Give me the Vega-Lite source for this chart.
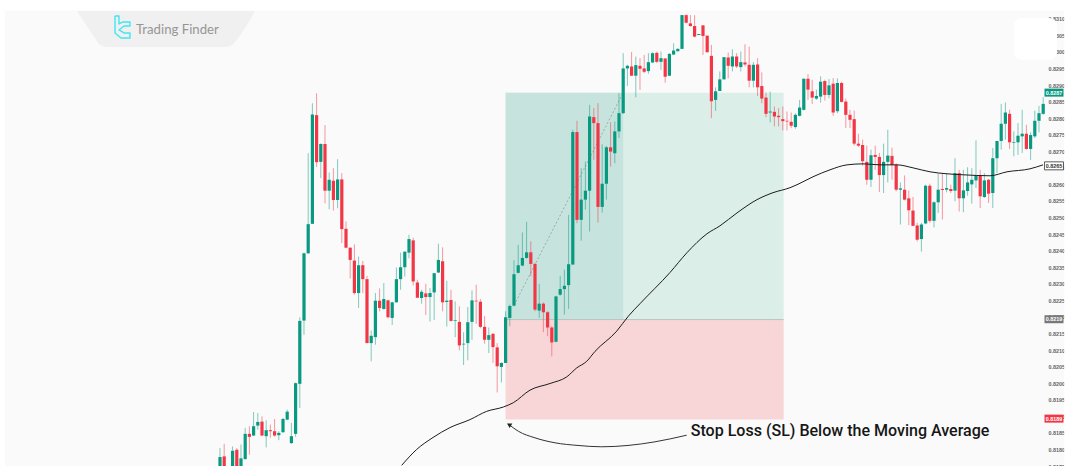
{"$schema":"https://vega.github.io/schema/vega-lite/v6.json","width":1066,"height":466,"autosize":{"type":"none"},"padding":0,"background":"#ffffff","config":{"view":{"fill":"#fafafa","stroke":null}},
"datasets":{"candles":[
{"i":0,"h":0.81804,"l":0.81699,"o":0.81709,"c":0.81777},
{"i":1,"h":0.81817,"l":0.81699,"o":0.81779,"c":0.81709},
{"i":3,"h":0.81809,"l":0.81699,"o":0.81719,"c":0.81796},
{"i":4,"h":0.81804,"l":0.81699,"o":0.81799,"c":0.81734},
{"i":5,"h":0.81815,"l":0.81709,"o":0.81729,"c":0.81773},
{"i":6,"h":0.81865,"l":0.81769,"o":0.81771,"c":0.81847},
{"i":7,"h":0.8187,"l":0.81784,"o":0.81847,"c":0.81838},
{"i":8,"h":0.81913,"l":0.8184,"o":0.81842,"c":0.8187},
{"i":9,"h":0.8191,"l":0.8186,"o":0.81872,"c":0.81883},
{"i":10,"h":0.819,"l":0.8184,"o":0.81884,"c":0.81842},
{"i":11,"h":0.81888,"l":0.81806,"o":0.8184,"c":0.81858},
{"i":12,"h":0.81875,"l":0.81835,"o":0.81858,"c":0.81855},
{"i":13,"h":0.81892,"l":0.81838,"o":0.81855,"c":0.81842},
{"i":14,"h":0.81855,"l":0.81828,"o":0.81843,"c":0.8185},
{"i":15,"h":0.81895,"l":0.8185,"o":0.81852,"c":0.81892},
{"i":16,"h":0.8192,"l":0.81888,"o":0.8189,"c":0.81914},
{"i":17,"h":0.8188,"l":0.81817,"o":0.81819,"c":0.8184},
{"i":18,"h":0.82002,"l":0.81838,"o":0.81847,"c":0.82},
{"i":19,"h":0.82199,"l":0.81925,"o":0.81998,"c":0.82188},
{"i":20,"h":0.82394,"l":0.82146,"o":0.82189,"c":0.82392},
{"i":21,"h":0.82694,"l":0.8239,"o":0.82392,"c":0.8248},
{"i":22,"h":0.82845,"l":0.82481,"o":0.82481,"c":0.82811},
{"i":23,"h":0.82875,"l":0.82652,"o":0.82809,"c":0.82667},
{"i":24,"h":0.82724,"l":0.82619,"o":0.82668,"c":0.82722},
{"i":25,"h":0.82779,"l":0.82543,"o":0.82722,"c":0.82581},
{"i":26,"h":0.82636,"l":0.82525,"o":0.82581,"c":0.82614},
{"i":27,"h":0.82649,"l":0.82521,"o":0.82611,"c":0.82553},
{"i":28,"h":0.82676,"l":0.82528,"o":0.82553,"c":0.82615},
{"i":29,"h":0.82634,"l":0.82423,"o":0.82615,"c":0.82465},
{"i":30,"h":0.82488,"l":0.82407,"o":0.82466,"c":0.82409},
{"i":31,"h":0.82409,"l":0.82316,"o":0.82409,"c":0.82372},
{"i":32,"h":0.82419,"l":0.82267,"o":0.8237,"c":0.82272},
{"i":33,"h":0.82382,"l":0.82227,"o":0.82272,"c":0.82356},
{"i":34,"h":0.82369,"l":0.82272,"o":0.82356,"c":0.82314},
{"i":35,"h":0.82324,"l":0.82121,"o":0.82314,"c":0.82121},
{"i":36,"h":0.82159,"l":0.82066,"o":0.82121,"c":0.82143},
{"i":37,"h":0.82272,"l":0.82116,"o":0.82139,"c":0.82249},
{"i":38,"h":0.82286,"l":0.82217,"o":0.82249,"c":0.82227},
{"i":39,"h":0.82302,"l":0.82222,"o":0.82224,"c":0.82254},
{"i":40,"h":0.82252,"l":0.82196,"o":0.8225,"c":0.82199},
{"i":41,"h":0.82246,"l":0.82176,"o":0.82197,"c":0.82244},
{"i":42,"h":0.82349,"l":0.82244,"o":0.82244,"c":0.82314},
{"i":43,"h":0.82394,"l":0.82282,"o":0.82314,"c":0.8235},
{"i":44,"h":0.82397,"l":0.82322,"o":0.8235,"c":0.82397},
{"i":45,"h":0.82448,"l":0.82377,"o":0.82394,"c":0.82435},
{"i":46,"h":0.82439,"l":0.82295,"o":0.82431,"c":0.82307},
{"i":47,"h":0.82312,"l":0.82257,"o":0.82304,"c":0.82258},
{"i":48,"h":0.82282,"l":0.8224,"o":0.82257,"c":0.82276},
{"i":49,"h":0.823,"l":0.82206,"o":0.82271,"c":0.8226},
{"i":50,"h":0.82287,"l":0.82186,"o":0.8226,"c":0.82272},
{"i":51,"h":0.82332,"l":0.82191,"o":0.82274,"c":0.82332},
{"i":52,"h":0.82421,"l":0.82332,"o":0.82334,"c":0.82372},
{"i":53,"h":0.8241,"l":0.82217,"o":0.82368,"c":0.82244},
{"i":54,"h":0.82309,"l":0.82171,"o":0.82245,"c":0.82249},
{"i":55,"h":0.82282,"l":0.82186,"o":0.82251,"c":0.82188},
{"i":56,"h":0.82247,"l":0.82139,"o":0.82188,"c":0.8219},
{"i":57,"h":0.82232,"l":0.82099,"o":0.82185,"c":0.82114},
{"i":58,"h":0.82154,"l":0.82055,"o":0.82117,"c":0.82119},
{"i":59,"h":0.8223,"l":0.82069,"o":0.82121,"c":0.82184},
{"i":60,"h":0.8228,"l":0.82131,"o":0.82185,"c":0.8225},
{"i":61,"h":0.82297,"l":0.82179,"o":0.82249,"c":0.82247},
{"i":62,"h":0.82254,"l":0.82166,"o":0.82246,"c":0.8217},
{"i":63,"h":0.82203,"l":0.82119,"o":0.8217,"c":0.82131},
{"i":64,"h":0.82168,"l":0.82091,"o":0.82131,"c":0.82145},
{"i":65,"h":0.82151,"l":0.82061,"o":0.82149,"c":0.82109},
{"i":66,"h":0.82121,"l":0.81972,"o":0.82108,"c":0.82051},
{"i":67,"h":0.82063,"l":0.82002,"o":0.82049,"c":0.82061},
{"i":68,"h":0.82217,"l":0.82061,"o":0.82061,"c":0.82199},
{"i":69,"h":0.82237,"l":0.82172,"o":0.82197,"c":0.82233},
{"i":70,"h":0.82371,"l":0.82232,"o":0.82234,"c":0.82329},
{"i":71,"h":0.82418,"l":0.82331,"o":0.82333,"c":0.82356},
{"i":72,"h":0.82455,"l":0.82353,"o":0.82355,"c":0.82378},
{"i":73,"h":0.82487,"l":0.82376,"o":0.82378,"c":0.82395},
{"i":74,"h":0.82428,"l":0.82323,"o":0.82395,"c":0.8236},
{"i":75,"h":0.82363,"l":0.82217,"o":0.8236,"c":0.82222},
{"i":76,"h":0.823,"l":0.82197,"o":0.82219,"c":0.8224},
{"i":77,"h":0.82244,"l":0.82154,"o":0.8224,"c":0.82214},
{"i":78,"h":0.82217,"l":0.82142,"o":0.82214,"c":0.82168},
{"i":79,"h":0.82172,"l":0.82081,"o":0.82168,"c":0.82123},
{"i":80,"h":0.82264,"l":0.82123,"o":0.82125,"c":0.82262},
{"i":81,"h":0.82324,"l":0.82264,"o":0.82267,"c":0.82284},
{"i":82,"h":0.82343,"l":0.82207,"o":0.82284,"c":0.82294},
{"i":83,"h":0.82508,"l":0.82224,"o":0.82296,"c":0.82359},
{"i":84,"h":0.82765,"l":0.82358,"o":0.82358,"c":0.82758},
{"i":85,"h":0.82792,"l":0.82483,"o":0.82758,"c":0.82493},
{"i":86,"h":0.82649,"l":0.8243,"o":0.82493,"c":0.82554},
{"i":87,"h":0.82669,"l":0.82524,"o":0.82554,"c":0.82581},
{"i":88,"h":0.8284,"l":0.82458,"o":0.82581,"c":0.82805},
{"i":89,"h":0.8283,"l":0.82674,"o":0.82803,"c":0.82785},
{"i":90,"h":0.82845,"l":0.82485,"o":0.82785,"c":0.82532},
{"i":91,"h":0.82721,"l":0.82515,"o":0.82532,"c":0.82602},
{"i":92,"h":0.82716,"l":0.82554,"o":0.82602,"c":0.82712},
{"i":93,"h":0.82788,"l":0.82654,"o":0.82712,"c":0.82699},
{"i":94,"h":0.8279,"l":0.82664,"o":0.82694,"c":0.8276},
{"i":95,"h":0.82875,"l":0.8274,"o":0.8276,"c":0.82815},
{"i":96,"h":0.82996,"l":0.82813,"o":0.82815,"c":0.8295},
{"i":97,"h":0.82961,"l":0.82897,"o":0.8295,"c":0.82958},
{"i":98,"h":0.83,"l":0.82928,"o":0.82956,"c":0.82928},
{"i":99,"h":0.82986,"l":0.82863,"o":0.82928,"c":0.8296},
{"i":100,"h":0.82981,"l":0.82885,"o":0.82958,"c":0.82949},
{"i":101,"h":0.82991,"l":0.82936,"o":0.8295,"c":0.8294},
{"i":102,"h":0.82996,"l":0.82934,"o":0.82942,"c":0.82969},
{"i":103,"h":0.82999,"l":0.82966,"o":0.82968,"c":0.82996},
{"i":104,"h":0.83001,"l":0.82966,"o":0.82997,"c":0.8297},
{"i":105,"h":0.83001,"l":0.82946,"o":0.8297,"c":0.82981},
{"i":106,"h":0.82981,"l":0.82907,"o":0.8298,"c":0.82925},
{"i":107,"h":0.82996,"l":0.82928,"o":0.82928,"c":0.82994},
{"i":108,"h":0.83026,"l":0.8299,"o":0.82992,"c":0.83004},
{"i":109,"h":0.83011,"l":0.83001,"o":0.83002,"c":0.83009},
{"i":110,"h":0.83111,"l":0.83009,"o":0.83009,"c":0.83111},
{"i":111,"h":0.83113,"l":0.83086,"o":0.83111,"c":0.83088},
{"i":112,"h":0.83111,"l":0.83076,"o":0.83086,"c":0.83078},
{"i":113,"h":0.83111,"l":0.83044,"o":0.83078,"c":0.83046},
{"i":114,"h":0.83054,"l":0.83051,"o":0.83051,"c":0.83054},
{"i":115,"h":0.83081,"l":0.82991,"o":0.8308,"c":0.83048},
{"i":116,"h":0.83049,"l":0.82998,"o":0.83049,"c":0.82999},
{"i":117,"h":0.83021,"l":0.828,"o":0.82988,"c":0.82851},
{"i":118,"h":0.82893,"l":0.82822,"o":0.82855,"c":0.82881},
{"i":119,"h":0.82941,"l":0.82882,"o":0.82882,"c":0.82917},
{"i":120,"h":0.82984,"l":0.82917,"o":0.82917,"c":0.82984},
{"i":121,"h":0.82998,"l":0.8292,"o":0.82983,"c":0.82958},
{"i":122,"h":0.83008,"l":0.82941,"o":0.82956,"c":0.82986},
{"i":123,"h":0.82996,"l":0.82951,"o":0.82986,"c":0.82956},
{"i":124,"h":0.83001,"l":0.82941,"o":0.82954,"c":0.82969},
{"i":125,"h":0.83023,"l":0.82956,"o":0.82968,"c":0.82962},
{"i":126,"h":0.83016,"l":0.82893,"o":0.82961,"c":0.82913},
{"i":127,"h":0.82969,"l":0.82893,"o":0.82913,"c":0.82961},
{"i":128,"h":0.82981,"l":0.82867,"o":0.82962,"c":0.82893},
{"i":129,"h":0.82938,"l":0.82845,"o":0.82897,"c":0.82859},
{"i":130,"h":0.82877,"l":0.82803,"o":0.82862,"c":0.82813},
{"i":131,"h":0.8288,"l":0.82787,"o":0.82817,"c":0.8282},
{"i":132,"h":0.82835,"l":0.82775,"o":0.82819,"c":0.82805},
{"i":133,"h":0.8283,"l":0.82775,"o":0.82807,"c":0.82803},
{"i":134,"h":0.82835,"l":0.82763,"o":0.82797,"c":0.82791},
{"i":135,"h":0.8282,"l":0.82763,"o":0.82792,"c":0.8279},
{"i":136,"h":0.82817,"l":0.8277,"o":0.82789,"c":0.82777},
{"i":137,"h":0.82815,"l":0.82768,"o":0.82773,"c":0.8281},
{"i":138,"h":0.82855,"l":0.82805,"o":0.82807,"c":0.82832},
{"i":139,"h":0.82919,"l":0.82823,"o":0.82825,"c":0.82919},
{"i":140,"h":0.82933,"l":0.82855,"o":0.82919,"c":0.82886},
{"i":141,"h":0.82916,"l":0.82843,"o":0.82881,"c":0.82862},
{"i":142,"h":0.82886,"l":0.82855,"o":0.82859,"c":0.82867},
{"i":143,"h":0.82926,"l":0.82847,"o":0.82865,"c":0.8291},
{"i":144,"h":0.82916,"l":0.82853,"o":0.82912,"c":0.8287},
{"i":145,"h":0.82918,"l":0.8286,"o":0.8287,"c":0.82899},
{"i":146,"h":0.82921,"l":0.82807,"o":0.82904,"c":0.82817},
{"i":147,"h":0.8292,"l":0.82815,"o":0.82821,"c":0.82906},
{"i":148,"h":0.8291,"l":0.82847,"o":0.82906,"c":0.82849},
{"i":149,"h":0.82859,"l":0.8277,"o":0.8285,"c":0.8281},
{"i":150,"h":0.82825,"l":0.8277,"o":0.8281,"c":0.82795},
{"i":151,"h":0.82823,"l":0.82717,"o":0.82797,"c":0.82723},
{"i":152,"h":0.82753,"l":0.82713,"o":0.82723,"c":0.82717},
{"i":153,"h":0.82735,"l":0.82656,"o":0.82719,"c":0.8267},
{"i":154,"h":0.82717,"l":0.82599,"o":0.82668,"c":0.82614},
{"i":155,"h":0.82705,"l":0.82592,"o":0.82614,"c":0.82688},
{"i":156,"h":0.82717,"l":0.82644,"o":0.82689,"c":0.82683},
{"i":157,"h":0.82695,"l":0.82577,"o":0.82683,"c":0.82628},
{"i":158,"h":0.82723,"l":0.82574,"o":0.82628,"c":0.82668},
{"i":159,"h":0.82765,"l":0.82606,"o":0.82668,"c":0.82687},
{"i":160,"h":0.82711,"l":0.82614,"o":0.82686,"c":0.82659},
{"i":161,"h":0.82664,"l":0.82579,"o":0.82659,"c":0.82584},
{"i":162,"h":0.82606,"l":0.82479,"o":0.82584,"c":0.82588},
{"i":163,"h":0.82627,"l":0.82552,"o":0.82584,"c":0.82554},
{"i":164,"h":0.82582,"l":0.82477,"o":0.82558,"c":0.82522},
{"i":165,"h":0.82562,"l":0.82474,"o":0.82521,"c":0.82475},
{"i":166,"h":0.82484,"l":0.82428,"o":0.82476,"c":0.82433},
{"i":167,"h":0.82484,"l":0.82397,"o":0.82435,"c":0.82479},
{"i":168,"h":0.82599,"l":0.8248,"o":0.82482,"c":0.82596},
{"i":169,"h":0.82602,"l":0.82484,"o":0.82596,"c":0.8249},
{"i":170,"h":0.82549,"l":0.8247,"o":0.8249,"c":0.82546},
{"i":171,"h":0.82634,"l":0.82514,"o":0.82546,"c":0.82584},
{"i":172,"h":0.82634,"l":0.82494,"o":0.82586,"c":0.82583},
{"i":173,"h":0.82634,"l":0.82576,"o":0.82584,"c":0.82589},
{"i":174,"h":0.82599,"l":0.82574,"o":0.82586,"c":0.8258},
{"i":175,"h":0.82679,"l":0.82549,"o":0.82581,"c":0.82634},
{"i":176,"h":0.82644,"l":0.82518,"o":0.82634,"c":0.82558},
{"i":177,"h":0.82644,"l":0.82516,"o":0.82558,"c":0.82582},
{"i":178,"h":0.82652,"l":0.82566,"o":0.8258,"c":0.82606},
{"i":179,"h":0.82649,"l":0.82542,"o":0.826,"c":0.82614},
{"i":180,"h":0.82733,"l":0.82589,"o":0.82612,"c":0.82627},
{"i":181,"h":0.82644,"l":0.82529,"o":0.82627,"c":0.82564},
{"i":182,"h":0.82634,"l":0.82559,"o":0.82562,"c":0.82612},
{"i":183,"h":0.82616,"l":0.82544,"o":0.82614,"c":0.82572},
{"i":184,"h":0.8271,"l":0.82529,"o":0.82574,"c":0.82679},
{"i":185,"h":0.82731,"l":0.82634,"o":0.82679,"c":0.82731},
{"i":186,"h":0.82843,"l":0.82705,"o":0.82731,"c":0.82783},
{"i":187,"h":0.82847,"l":0.82735,"o":0.82783,"c":0.82817},
{"i":188,"h":0.82825,"l":0.82707,"o":0.82813,"c":0.82727},
{"i":189,"h":0.8276,"l":0.82685,"o":0.82725,"c":0.82727},
{"i":190,"h":0.82785,"l":0.82689,"o":0.82727,"c":0.82747},
{"i":191,"h":0.82825,"l":0.82695,"o":0.82745,"c":0.82753},
{"i":192,"h":0.8278,"l":0.82705,"o":0.82753,"c":0.82707},
{"i":193,"h":0.82757,"l":0.82674,"o":0.82707,"c":0.82749},
{"i":194,"h":0.82823,"l":0.8274,"o":0.82745,"c":0.82792},
{"i":195,"h":0.82837,"l":0.82757,"o":0.82792,"c":0.82815},
{"i":196,"h":0.82863,"l":0.8281,"o":0.82813,"c":0.82843}
],
"ma":[
{"i":43.26,"p":0.81752},{"i":46.83,"p":0.818},{"i":50.71,"p":0.81836},{"i":54.76,"p":0.81866},{"i":59.52,"p":0.8189},{"i":63.5,"p":0.81915},{"i":67.45,"p":0.81928},{"i":69.83,"p":0.81941},{"i":73.81,"p":0.81979},{"i":78.57,"p":0.81999},{"i":82.55,"p":0.82019},{"i":84.93,"p":0.82046},{"i":87.31,"p":0.82066},{"i":89.29,"p":0.82096},{"i":94.45,"p":0.82157},{"i":97.21,"p":0.82202},{"i":100,"p":0.8224},{"i":107.14,"p":0.82334},{"i":111.19,"p":0.82394},{"i":115.95,"p":0.82451},{"i":119.05,"p":0.82475},{"i":123.1,"p":0.82514},{"i":127.86,"p":0.82554},{"i":131.67,"p":0.82575},{"i":135.71,"p":0.8259},{"i":137.38,"p":0.82599},{"i":141.19,"p":0.82623},{"i":145.24,"p":0.82644},{"i":149.29,"p":0.82659},{"i":153.1,"p":0.82662},{"i":157.14,"p":0.82659},{"i":161.19,"p":0.82659},{"i":165,"p":0.8265},{"i":169.05,"p":0.82638},{"i":173.1,"p":0.82632},{"i":176.9,"p":0.82629},{"i":183.33,"p":0.82626},{"i":187.38,"p":0.82638},{"i":192.86,"p":0.82647},{"i":195.95,"p":0.82659}
],
"arrow":[
{"i":68.81,"p":0.81875},{"i":71.02,"p":0.81855},{"i":75,"p":0.81835},{"i":79.76,"p":0.8182},{"i":85.24,"p":0.81812},{"i":90.88,"p":0.81808},{"i":97.14,"p":0.81812},{"i":103.57,"p":0.81823},{"i":111.12,"p":0.81843}
],
"zones":[
{"zone":"target","i0":68,"i1":134.2,"p0":0.82192,"p1":0.82877},
{"zone":"stop","i0":68,"i1":134.2,"p0":0.8189,"p1":0.82192},
{"zone":"reached","i0":68,"i1":96,"p0":0.82192,"p1":0.82877}
],
"tags":[
{"p":0.82877,"label":"0.8287","kind":"last"},
{"p":0.82656,"label":"0.8265","kind":"ma"},
{"p":0.82193,"label":"0.8219","kind":"entry"},
{"p":0.81893,"label":"0.8189","kind":"stop"}
],
"plate":[
{"i":-34.05,"p":0.831235},{"i":-29.76,"p":0.83042},{"i":-28.57,"p":0.83021},{"i":-26.67,"p":0.83015},{"i":1.19,"p":0.83015},{"i":2.86,"p":0.83021},{"i":4.29,"p":0.83042},{"i":8.33,"p":0.831235}
],
"logo":[
{"n":1,"i":-25,"p":0.831084},{"n":2,"i":-24.05,"p":0.831084},{"n":3,"i":-24.05,"p":0.830842},{"n":4,"i":-23.1,"p":0.830903},{"n":5,"i":-21.43,"p":0.830903},{"n":6,"i":-21.43,"p":0.830782},{"n":7,"i":-22.86,"p":0.830782},{"n":8,"i":-24.05,"p":0.830662},{"n":9,"i":-22.86,"p":0.830571},{"n":10,"i":-21.43,"p":0.830571},{"n":11,"i":-21.43,"p":0.83042},{"n":12,"i":-23.57,"p":0.83042},{"n":13,"i":-25,"p":0.830571},{"n":14,"i":-25,"p":0.831084}
]},
"encoding":{},
"resolve":{"scale":{"color":"independent"}},
"layer":[
{"data":{"name":"zones"},"mark":{"type":"rect"},"encoding":{
 "x":{"field":"i0","type":"quantitative","scale":{"domain":[-52.381,201.429],"range":[0,1066],"nice":false,"zero":false},"axis":null},
 "x2":{"field":"i1"},
 "y":{"field":"p0","type":"quantitative","scale":{"domain":[0.8175,0.831566],"range":[466,0],"nice":false,"zero":false},
  "axis":{"orient":"right","offset":-18,"domain":false,"ticks":false,"grid":false,"title":null,"format":".4f","labelPadding":0,"labelAlign":"left","labelFontSize":5.4,"labelFont":"Liberation Sans","labelFontWeight":"bold","labelColor":"#666666","labelBound":false,"labelOverlap":false,"labelFlush":false,"tickCount":29}},
 "y2":{"field":"p1"},
 "color":{"field":"zone","type":"nominal","legend":null,"scale":{"domain":["target","stop","reached"],"range":["#dceee8","#f8d6d8","#c6e3de"]}}
}},
{"data":{"values":[{"i0":68,"i1":134.2,"p":0.82192}]},"mark":{"type":"rule","color":"#b9c4bf","strokeWidth":1},"encoding":{"x":{"field":"i0","type":"quantitative"},"x2":{"field":"i1"},"y":{"field":"p","type":"quantitative"}}},
{"data":{"values":[{"i":70,"p":0.82235},{"i":96,"p":0.82877}]},"mark":{"type":"line","color":"#8d9d98","strokeWidth":0.8,"strokeDash":[2,2]},"encoding":{"x":{"field":"i","type":"quantitative"},"y":{"field":"p","type":"quantitative"}}},
{"data":{"name":"candles"},"mark":{"type":"rule","strokeWidth":1,"opacity":0.5},"encoding":{"x":{"field":"i","type":"quantitative"},"y":{"field":"h","type":"quantitative"},"y2":{"field":"l"},"color":{"condition":{"test":"datum.c>=datum.o","value":"#089981"},"value":"#f23645"}}},
{"data":{"name":"candles"},"mark":{"type":"rule","strokeWidth":3.2},"encoding":{"x":{"field":"i","type":"quantitative"},"y":{"field":"o","type":"quantitative"},"y2":{"field":"c"},"color":{"condition":{"test":"datum.c>=datum.o","value":"#089981"},"value":"#f23645"}}},
{"data":{"name":"ma"},"mark":{"type":"line","color":"#1c1c1c","strokeWidth":1,"interpolate":"monotone"},"encoding":{"x":{"field":"i","type":"quantitative"},"y":{"field":"p","type":"quantitative"}}},
{"data":{"values":[{"i0":-52.381,"i1":201.429,"p0":0.83125,"p1":0.831566},{"i0":-52.381,"i1":-51.2,"p0":0.8175,"p1":0.831566},{"i0":201.0,"i1":201.429,"p0":0.8175,"p1":0.831566}]},"mark":{"type":"rect","color":"#ffffff"},"encoding":{"x":{"field":"i0","type":"quantitative"},"x2":{"field":"i1"},"y":{"field":"p0","type":"quantitative"},"y2":{"field":"p1"}}},
{"data":{"name":"plate"},"mark":{"type":"area","color":"#f0f0f0","interpolate":"monotone"},"encoding":{"x":{"field":"i","type":"quantitative"},"y":{"field":"p","type":"quantitative"},"y2":{"datum":0.831235}}},
{"data":{"name":"logo"},"mark":{"type":"line","color":"#3fe6f2","strokeWidth":1.4,"strokeJoin":"round"},"encoding":{"x":{"field":"i","type":"quantitative"},"y":{"field":"p","type":"quantitative"},"order":{"field":"n"}}},
{"data":{"values":[{"i":-20,"p":0.83066,"t":"Trading Finder"}]},"mark":{"type":"text","align":"left","baseline":"middle","font":"Lato","fontSize":13.2,"color":"#969696"},"encoding":{"x":{"field":"i","type":"quantitative"},"y":{"field":"p","type":"quantitative"},"text":{"field":"t"}}},
{"data":{"values":[{"i0":189.05,"i1":199.3,"p0":0.82976,"p1":0.83102}]},"mark":{"type":"rect","color":"#ffffff","cornerRadius":8},"encoding":{"x":{"field":"i0","type":"quantitative"},"x2":{"field":"i1"},"y":{"field":"p0","type":"quantitative"},"y2":{"field":"p1"}}},
{"data":{"name":"arrow"},"mark":{"type":"line","color":"#333333","strokeWidth":1,"interpolate":"monotone"},"encoding":{"x":{"field":"i","type":"quantitative"},"y":{"field":"p","type":"quantitative"}}},
{"data":{"values":[{"i":68.81,"p":0.81875}]},"mark":{"type":"point","shape":"triangle-up","angle":300,"size":28,"filled":true,"color":"#222222","opacity":1},"encoding":{"x":{"field":"i","type":"quantitative"},"y":{"field":"p","type":"quantitative"}}},
{"data":{"values":[{"i":112.07,"p":0.8184,"t":"Stop Loss (SL) Below the Moving Average"}]},"mark":{"type":"text","align":"left","baseline":"alphabetic","font":"Roboto","fontWeight":500,"fontSize":16.05,"color":"#161616"},"encoding":{"x":{"field":"i","type":"quantitative"},"y":{"field":"p","type":"quantitative"},"text":{"field":"t"}}},
{"data":{"name":"tags"},"mark":{"type":"rect","width":19,"height":8,"strokeWidth":0.8},"encoding":{"x":{"datum":198.57,"type":"quantitative"},"y":{"field":"p","type":"quantitative"},
 "color":{"field":"kind","type":"nominal","legend":null,"scale":{"domain":["last","ma","entry","stop"],"range":["#089981","#ffffff","#787878","#f23645"]}},
 "stroke":{"condition":{"test":"datum.kind==='ma'","value":"#333333"},"value":null}}},
{"data":{"name":"tags"},"mark":{"type":"text","align":"center","baseline":"middle","font":"Liberation Sans","fontWeight":"bold","fontSize":5.4},"encoding":{"x":{"datum":198.57,"type":"quantitative"},"y":{"field":"p","type":"quantitative"},"text":{"field":"label"},
 "color":{"field":"kind","type":"nominal","legend":null,"scale":{"domain":["last","ma","entry","stop"],"range":["#ffffff","#333333","#ffffff","#ffffff"]}}}}
]}
